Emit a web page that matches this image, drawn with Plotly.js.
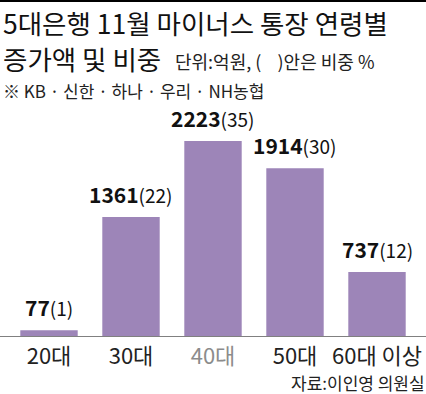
<!DOCTYPE html>
<html><head><meta charset="utf-8">
<script src="https://cdn.plot.ly/plotly-3.0.1.min.js"></script>
<style>html,body{margin:0;padding:0;background:#fff;}#c{width:426px;height:394px;}</style>
</head><body><div id="c"></div>
<script>
const categories = ['20대', '30대', '40대', '50대', '60대 이상'];
const amounts = [77, 1361, 2223, 1914, 737];
const shares = [1, 22, 35, 30, 12];
const titleLine1 = '5대은행 11월 마이너스 통장 연령별';
const titleLine2 = '증가액 및 비중';
const unitNote = '단위:억원, (&nbsp;&nbsp;&nbsp;&nbsp;)안은 비중 %';
const banksNote = '※ KB · 신한 · 하나 · 우리 · NH농협';
const sourceNote = '자료:이인영 의원실';

const W = 426, H = 394;
const M = {l: 8, r: 8, t: 100, b: 57};
const plotH = H - M.t - M.b, plotW = W - M.l - M.r;
const px2py = py => (H - M.b - py) / plotH;
const px2px = px => (px - M.l) / plotW;
const KR = '"Noto Sans CJK KR", sans-serif';

const tickText = categories.map((c, i) => i === 2 ? `<span style="color:#8c8c8c">${c}</span>` : c);

const valueAnn = categories.map((c, i) => ({
  x: c, y: amounts[i], xref: 'x', yref: 'y', xanchor: 'center', yanchor: 'bottom',
  yshift: 6, showarrow: false,
  text: `<b>${amounts[i]}</b><span style="font-size:19px">(${shares[i]})</span>`,
  font: {family: KR, size: 21, color: '#111'}
}));

const textAnn = [
  {text: titleLine1, x: px2px(1), y: px2py(22.5), font: {family: KR, size: 26.5, color: '#111'}},
  {text: titleLine2, x: px2px(1), y: px2py(58.5), font: {family: KR, size: 26.5, color: '#111'}},
  {text: unitNote, x: px2px(173), y: px2py(61), font: {family: KR, size: 18, color: '#222'}},
  {text: banksNote, x: px2px(1), y: px2py(90), font: {family: KR, size: 17, color: '#222'}},
].map(a => Object.assign({xref: 'paper', yref: 'paper', xanchor: 'left', yanchor: 'middle', showarrow: false}, a));
textAnn.push({text: sourceNote, x: px2px(427), y: px2py(382), xref: 'paper', yref: 'paper',
  xanchor: 'right', yanchor: 'middle', showarrow: false, font: {family: KR, size: 17, color: '#222'}});

const data = [{
  type: 'bar', x: categories, y: amounts,
  marker: {color: '#9d85b8', line: {width: 0}},
  hoverinfo: 'none'
}];

const layout = {
  width: W, height: H, margin: M,
  paper_bgcolor: '#fff', plot_bgcolor: '#fff',
  showlegend: false, bargap: 0.3,
  xaxis: {type: 'category', tickvals: categories, ticktext: tickText, showline: false, showgrid: false,
    zeroline: false, ticks: '', ticklabelstandoff: 4, tickfont: {family: KR, size: 22, color: '#222'}, fixedrange: true},
  yaxis: {range: [0, plotH / 0.0882], visible: false, showgrid: false, zeroline: false, fixedrange: true},
  shapes: [
    {type: 'line', xref: 'paper', yref: 'y', x0: px2px(0), x1: px2px(W), y0: 0, y1: 0,
      line: {color: '#808080', width: 2}},
    {type: 'line', xref: 'paper', yref: 'paper', x0: px2px(0), x1: px2px(W), y0: px2py(1), y1: px2py(1),
      line: {color: '#000', width: 2}}
  ],
  annotations: valueAnn.concat(textAnn)
};

Plotly.newPlot('c', data, layout, {displayModeBar: false, staticPlot: true});
</script></body></html>
